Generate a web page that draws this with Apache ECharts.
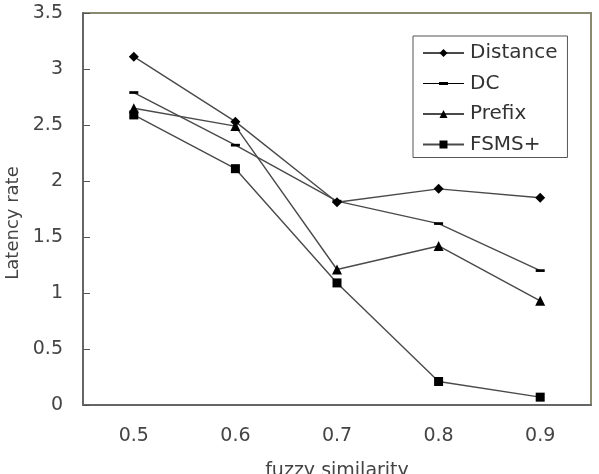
<!DOCTYPE html>
<html>
<head>
<meta charset="utf-8">
<script src="https://cdn.jsdelivr.net/npm/echarts@6/dist/echarts.min.js"></script>
<style>html,body{margin:0;padding:0;background:#fff;}#c{width:599px;height:474px;}</style>
</head>
<body>
<div id="c"></div>
<script>
var categories = ['0.5', '0.6', '0.7', '0.8', '0.9'];
var distance = [3.11, 2.53, 1.81, 1.93, 1.85];
var dc = [2.79, 2.32, 1.82, 1.62, 1.2];
var prefix = [2.65, 2.49, 1.21, 1.42, 0.93];
var fsms = [2.59, 2.11, 1.09, 0.21, 0.07];
var yTicks = [0, 0.5, 1, 1.5, 2, 2.5, 3, 3.5];

var font = 'DejaVu Sans, sans-serif';
var chart = echarts.init(document.getElementById('c'), null, {renderer: 'canvas'});

function mk(name, data, symbol, size, keep) {
  return {
    name: name, type: 'line', data: data,
    symbol: symbol, symbolSize: size, showSymbol: true, symbolKeepAspect: !!keep,
    lineStyle: {color: '#4a4a4a', width: 1.4},
    itemStyle: {color: '#000'},
    emphasis: {disabled: true},
    animation: false
  };
}

chart.setOption({
  animation: false,
  grid: {left: 83, right: 8, top: 13, bottom: 69, show: true, borderColor: '#8a8a70', borderWidth: 2,
    backgroundColor: '#fff', outerBoundsMode: 'none', containLabel: false},
  legend: {
    orient: 'vertical', left: 413, top: 36,
    padding: [7, 10, 3, 9],
    itemGap: 10.5, itemWidth: 41, itemHeight: 10,
    borderColor: '#555', borderWidth: 1, backgroundColor: '#fff',
    textStyle: {fontFamily: font, fontSize: 20, color: '#333', padding: [0, 0, 0, 1]},
    data: [
      'Distance',
      {name: 'DC', icon: 'path://M0,0h0.01v0.01h-0.01Z M41,10h-0.01v-0.01h0.01Z M0,4.4H41V5.6H0Z M16,3.6H25V6.4H16Z'},
      'Prefix',
      'FSMS+'
    ]
  },
  xAxis: {
    type: 'category', data: categories, boundaryGap: true,
    name: 'fuzzy similarity', nameLocation: 'middle', nameGap: 57,
    nameTextStyle: {fontFamily: font, fontSize: 19, color: '#444', verticalAlign: 'top'},
    axisLine: {lineStyle: {color: '#666', width: 2}},
    axisTick: {inside: true, length: 7, lineStyle: {color: '#555'}},
    axisLabel: {fontFamily: font, fontSize: 19, color: '#444', margin: 22}
  },
  yAxis: {
    type: 'value', min: 0, max: 3.5, interval: 0.5,
    axisLine: {show: true, lineStyle: {color: '#666', width: 2}},
    axisTick: {show: true, inside: true, length: 7, lineStyle: {color: '#555'}},
    splitLine: {show: false},
    axisLabel: {fontFamily: font, fontSize: 19, color: '#444', margin: 20,
      formatter: function (v) { return yTicks.indexOf(v) >= 0 ? String(v) : ''; }}
  },
  graphic: [{
    type: 'text', x: 13, y: 223, rotation: Math.PI / 2,
    style: {text: 'Latency rate', fontFamily: font, fontSize: 18, fill: '#444', textAlign: 'center', textVerticalAlign: 'middle'}
  }],
  series: [
    mk('Distance', distance, 'diamond', 10),
    mk('DC', dc, 'path://M0,0 H10 V3 H0 Z', 9, true),
    mk('Prefix', prefix, 'triangle', 10),
    mk('FSMS+', fsms, 'rect', 9)
  ]
});
</script>
</body>
</html>
